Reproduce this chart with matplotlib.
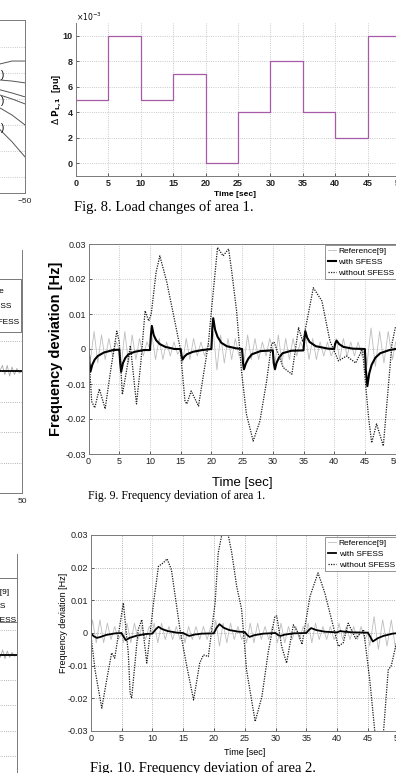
import matplotlib.pyplot as plt
from matplotlib.patches import Rectangle

W, H = 396, 773
SANS = ['Liberation Sans Narrow', 'Liberation Sans', 'DejaVu Sans']
SERIF = ['Liberation Serif', 'DejaVu Serif']
plt.rcParams['font.family'] = SANS

# ---- Fig. 8: load change of area 1 (x10^-3 pu)
load_t = [0, 5, 10, 15, 20, 25, 30, 35, 40, 45, 50]
load_v = [5, 10, 5, 7, 0, 4, 8, 4, 2, 10, 10]

# ---- Reference[9] curves (oscillation extrema)
ref_t = [0, 0.3, 0.9, 1.5, 2.1, 2.7, 3.3, 3.9, 4.5,
         5.0, 5.3, 5.9, 6.5, 7.1, 7.7, 8.3, 8.9, 9.5,
         10.0, 10.3, 10.9, 11.5, 12.1, 12.7, 13.3, 13.9, 14.5,
         15.0, 15.3, 15.9, 16.5, 17.1, 17.7, 18.3, 18.9, 19.5,
         20.0, 20.3, 20.9, 21.5, 22.1, 22.7, 23.3, 23.9, 24.5,
         25.0, 25.3, 25.9, 26.5, 27.1, 27.7, 28.3, 28.9, 29.5,
         30.0, 30.3, 30.9, 31.5, 32.1, 32.7, 33.3, 33.9, 34.5,
         35.0, 35.3, 35.9, 36.5, 37.1, 37.7, 38.3, 38.9, 39.5,
         40.0, 40.3, 40.9, 41.5, 42.1, 42.7, 43.3, 43.9, 44.5,
         45.0, 45.3, 46.0, 46.7, 47.4, 48.1, 48.8, 49.5, 50.0]
ref1_v = [0.0, -0.003, 0.005, -0.004, 0.004, -0.003, 0.003, -0.002, 0.002,
          0.0, -0.005, 0.005, -0.004, 0.004, -0.003, 0.003, -0.002, 0.002,
          0.0, 0.004, -0.003, 0.003, -0.003, 0.002, -0.002, 0.002, -0.0015,
          0.0, -0.004, 0.003, -0.003, 0.003, -0.002, 0.002, -0.002, 0.0015,
          0.0, 0.005, -0.006, 0.004, -0.004, 0.003, -0.003, 0.003, -0.002,
          0.0, -0.004, 0.004, -0.003, 0.003, -0.003, 0.002, -0.002, 0.003,
          0.0, -0.005, 0.004, -0.004, 0.003, -0.003, 0.003, -0.002, 0.002,
          0.0, 0.004, -0.003, 0.003, -0.003, 0.002, -0.002, 0.002, -0.002,
          0.0, 0.003, -0.003, 0.003, -0.002, 0.002, -0.002, 0.002, -0.002,
          0.0, -0.005, 0.006, -0.005, 0.005, -0.004, 0.005, -0.003, 0.002]
ref2_v = [0.0, 0.004, -0.003, 0.004, -0.003, 0.003, -0.002, 0.002, -0.002,
          0.0, -0.003, 0.003, -0.003, 0.003, -0.002, 0.002, -0.002, 0.002,
          0.0, 0.003, -0.003, 0.003, -0.002, 0.002, -0.002, 0.002, -0.002,
          0.0, -0.003, 0.002, -0.002, 0.002, -0.002, 0.002, -0.002, 0.002,
          0.0, 0.004, -0.004, 0.003, -0.003, 0.003, -0.002, 0.002, -0.002,
          0.0, -0.003, 0.003, -0.003, 0.003, -0.002, 0.002, -0.002, 0.002,
          0.0, -0.003, 0.003, -0.003, 0.002, -0.002, 0.002, -0.002, 0.002,
          0.0, 0.003, -0.003, 0.003, -0.002, 0.002, -0.002, 0.002, -0.002,
          0.0, 0.003, -0.002, 0.002, -0.002, 0.002, -0.002, 0.002, -0.002,
          0.0, -0.004, 0.005, -0.005, 0.004, -0.004, 0.004, -0.005, 0.001]

# ---- with SFESS, area 1
sf1_t = [0, 0.15, 0.3, 0.6, 1.0, 1.5, 2.5, 4.0,
         5.0, 5.15, 5.3, 5.6, 6.0, 6.5, 7.5, 9.0,
         10.0, 10.15, 10.3, 10.6, 11.0, 11.6, 12.5, 14.0,
         15.0, 15.15, 15.3, 15.6, 16.0, 17.0, 18.5,
         20.0, 20.15, 20.3, 20.6, 21.0, 21.6, 22.5, 24.0,
         25.0, 25.15, 25.3, 25.6, 26.0, 26.6, 28.0,
         30.0, 30.15, 30.35, 30.6, 31.0, 31.6, 33.0,
         35.0, 35.15, 35.3, 35.6, 36.0, 37.0, 39.0,
         40.0, 40.15, 40.4, 40.8, 41.5, 43.0,
         45.0, 45.15, 45.4, 45.7, 46.1, 46.7, 47.5, 49.0, 50.0]
sf1_v = [0.0, -0.004, -0.0065, -0.0045, -0.003, -0.002, -0.001, -0.0003,
         -0.0002, -0.004, -0.0065, -0.004, -0.0025, -0.0015, -0.0008, -0.0003,
         -0.0003, 0.004, 0.0066, 0.004, 0.0025, 0.0014, 0.0006, 0.0,
         0.0, -0.002, -0.003, -0.0022, -0.0015, -0.0008, -0.0003,
         0.0, 0.006, 0.0088, 0.0055, 0.0035, 0.0018, 0.0008, 0.0002,
         0.0, -0.004, -0.0058, -0.0042, -0.0028, -0.0015, -0.0006,
         -0.0004, -0.004, -0.0058, -0.004, -0.0025, -0.0012, -0.0005,
         -0.0004, 0.003, 0.0051, 0.0032, 0.002, 0.0008, 0.0001,
         0.0, 0.0015, 0.0024, 0.0014, 0.0006, 0.0001,
         0.0, -0.006, -0.0106, -0.007, -0.0045, -0.0025, -0.0012, -0.0003, 0.0]

# ---- without SFESS, area 1
no1_t = [0, 0.5, 1.0, 1.75, 2.7, 3.6, 4.6, 5.0, 5.5, 6.2, 6.8, 7.8, 8.5, 9.2,
         9.8, 10.2, 11.0, 11.6, 12.7, 13.8, 14.9, 15.7, 16.0, 16.7, 17.9, 19.5,
         20.0, 21.0, 21.9, 22.8, 23.3, 24.1, 24.9, 25.7, 26.8, 27.9, 29.0, 29.8,
         30.2, 31.7, 33.1, 34.2, 34.9, 36.6, 38.0, 39.3, 40.7, 42.0, 43.5, 44.6,
         45.6, 46.1, 46.9, 48.0, 49.4, 50.0]
no1_v = [0.0, -0.015, -0.0168, -0.0114, -0.0171, -0.006, 0.0051, 0.002, -0.013,
         -0.006, 0.001, -0.0157, -0.004, 0.0109, 0.008, 0.01, 0.022, 0.0266,
         0.0194, 0.01, 0.0004, -0.0149, -0.0157, -0.012, -0.0163, 0.0014,
         0.0109, 0.029, 0.0266, 0.0286, 0.0223, 0.0109, -0.0063, -0.0186,
         -0.0263, -0.0206, -0.0091, 0.0014, 0.002, -0.0053, -0.0072, 0.0061,
         0.002, 0.0175, 0.0137, 0.0023, -0.0034, -0.002, -0.004, 0.0,
         -0.0196, -0.0268, -0.0214, -0.0277, 0.0014, 0.0065]

# ---- with SFESS, area 2
sf2_t = [0, 0.5, 1.0, 1.6, 2.5, 4.0,
         5.0, 5.3, 5.7, 6.3, 7.5, 9.0,
         10.0, 10.5, 11.0, 11.6, 12.5, 14.0,
         15.0, 15.5, 16.0, 16.8, 18.0,
         20.0, 20.4, 20.9, 21.6, 22.5, 24.0,
         25.0, 25.4, 25.8, 26.5, 28.0,
         30.0, 30.4, 30.8, 31.5, 33.0,
         35.0, 35.4, 35.8, 36.6, 38.0,
         40.0, 40.5, 41.2, 42.5,
         45.0, 45.4, 45.8, 46.6, 47.5, 49.0, 50.0]
sf2_v = [0.0, -0.001, -0.0015, -0.0012, -0.0006, -0.0001,
         0.0, -0.001, -0.0022, -0.0015, -0.0008, -0.0003,
         -0.0002, 0.001, 0.0019, 0.0012, 0.0006, 0.0001,
         0.0, -0.0005, -0.0009, -0.0005, -0.0002,
         -0.0001, 0.0015, 0.0027, 0.0016, 0.0009, 0.0004,
         0.0003, -0.0006, -0.0012, -0.0007, -0.0002,
         0.0, -0.0006, -0.0009, -0.0005, -0.0001,
         0.0, 0.0009, 0.0015, 0.0009, 0.0004,
         0.0002, 0.0006, 0.0004, 0.0002,
         0.0001, -0.0012, -0.0026, -0.0016, -0.0009, -0.0002, 0.0]

# ---- without SFESS, area 2
no2_t = [0, 0.7, 1.8, 2.6, 3.4, 3.9, 5.3, 6.1, 6.4, 6.65, 7.7, 8.3, 9.1, 10.2,
         11.0, 11.8, 12.4, 13.1, 14.5, 15.6, 16.7, 17.7, 18.3, 19.1, 20.2,
         20.7, 21.8, 22.9, 23.7, 24.5, 25.3, 26.7, 27.8, 28.8, 29.9, 30.2,
         31.0, 31.8, 32.9, 33.7, 34.3, 35.6, 36.9, 38.0, 39.1, 40.2, 41.0,
         41.8, 43.0, 44.3, 45.3, 46.1, 46.7, 47.5, 48.3, 48.8, 49.5, 50.0]
no2_v = [0.0, -0.0113, -0.023, -0.0143, -0.0061, -0.0077, 0.0092, -0.0061,
         -0.0184, -0.02, 0.001, 0.0041, -0.0092, 0.0092, 0.0204, 0.0215,
         0.0227, 0.0194, 0.001, -0.0102, -0.0205, -0.0092, -0.0067, -0.0072,
         0.0092, 0.0245, 0.035, 0.0245, 0.0143, 0.0072, -0.0113, -0.0271,
         -0.0194, -0.0061, 0.0051, 0.0052, -0.0041, -0.0092, 0.0025, 0.0,
         -0.0035, 0.0112, 0.0184, 0.0123, 0.0041, -0.0041, -0.003, 0.003,
         -0.0017, 0.001, -0.0143, -0.0297, -0.034, -0.031, -0.0113, -0.01,
         -0.0041, 0.0]

# ---- fragments of the neighbouring column (left edge of the page)
frag_x = [-57.1, -53.7, -50.0]
frag_lines = [[5.35, 5.46, 5.46], [4.73, 4.69, 4.62], [4.35, 4.23, 4.08],
              [4.15, 4.0, 3.81], [3.65, 3.38, 3.0], [2.81, 2.35, 1.77]]
frag_ref_t = [43.5, 44.3, 45.0, 45.7, 46.4, 47.1, 47.8, 48.5, 49.2, 50.0]
frag_ref_v = [0.0, 0.002, -0.001, 0.002, -0.0015, 0.0015, -0.001, 0.001, -0.0005, 0.0]
frag_sf_t = [43.5, 50.0]
frag_sf_v = [0.0, 0.0]

legend_labels = ['Reference[9]', 'with SFESS', 'without SFESS']


def px_axes(fig, left, top, right, bottom):
    return fig.add_axes([left / W, 1 - bottom / H, (right - left) / W, (bottom - top) / H])


def matlab_style(ax, grid_color='#b8b8b8'):
    ax.grid(True, linestyle=':', linewidth=0.6, color=grid_color)
    for s in ax.spines.values():
        s.set_color('#7a7a7a')
        s.set_linewidth(0.7)
    ax.tick_params(direction='in', length=2.5, width=0.5, colors='#222222')


fig = plt.figure(figsize=(W / 100, H / 100), dpi=100)

# ---------------- Fig. 8 ----------------
ax8 = px_axes(fig, 76, 23, 400, 176)
ax8.step(load_t, load_v, where='post', color='#a65aa8', lw=0.9)
ax8.set_xlim(0, 50)
ax8.set_ylim(-1, 11)
ax8.set_xticks(range(0, 51, 5))
ax8.set_yticks(range(0, 11, 2))
matlab_style(ax8)
ax8.spines['top'].set_visible(False)
ax8.tick_params(labelsize=6.5, pad=2.5)
for lab in ax8.get_xticklabels() + ax8.get_yticklabels():
    lab.set_family(['Liberation Sans'])
    lab.set_fontweight('bold')
ax8.set_xlabel('Time [sec]', fontsize=6, fontweight='bold', family=['Liberation Sans'])
ax8.xaxis.set_label_coords(0.49, -0.095)
ax8.set_ylabel(r'$\Delta$ $\mathbf{P_{L,1}}$  [pu]', fontsize=6.5, fontweight='bold',
               family=['Liberation Sans'])
ax8.yaxis.set_label_coords(-0.036, 0.5)
ax8.text(0.0, 1.0, r'$\times10^{-3}$', transform=ax8.transAxes, fontsize=5.5,
         ha='left', va='bottom', family=['Liberation Sans'])
fig.text(74 / W, 1 - 207 / H, 'Fig. 8. Load changes of area 1.', family=SERIF,
         fontsize=10.5, ha='left', va='center')

# ---------------- Fig. 9 ----------------
ax9 = px_axes(fig, 88.6, 244, 395.6, 454)
l_ref, = ax9.plot(ref_t, ref1_v, color='#bdbdbd', lw=0.6)
l_sf, = ax9.plot(sf1_t, sf1_v, color='black', lw=1.5)
l_no, = ax9.plot(no1_t, no1_v, color='#1a1a1a', lw=0.9, linestyle=(0, (1, 1)))
ax9.set_xlim(0, 50)
ax9.set_ylim(-0.03, 0.03)
ax9.set_xticks(range(0, 51, 5))
ax9.set_yticks([-0.03, -0.02, -0.01, 0, 0.01, 0.02, 0.03])
ax9.set_yticklabels(['-0.03', '-0.02', '-0.01', '0', '0.01', '0.02', '0.03'])
matlab_style(ax9)
ax9.tick_params(labelsize=6.5, pad=2)
ax9.set_xlabel('Time [sec]', fontsize=9.5)
ax9.xaxis.set_label_coords(0.5, -0.11)
ax9.set_ylabel('Frequency deviation [Hz]', fontsize=10.5, fontweight='bold',
               family=['Liberation Sans'])
ax9.yaxis.set_label_coords(-0.085, 0.5)
leg9 = ax9.legend([l_ref, l_sf, l_no], legend_labels, loc='upper right',
                  bbox_to_anchor=(1.005, 0.995), fontsize=6, frameon=True,
                  fancybox=False, edgecolor='#777777', handlelength=1.0,
                  handletextpad=0.3, labelspacing=0.35, borderpad=0.3,
                  borderaxespad=0)
leg9.get_frame().set_linewidth(0.7)
fig.text(88 / W, 1 - 496 / H, 'Fig. 9. Frequency deviation of area 1.', family=SERIF,
         fontsize=8.5, ha='left', va='center')

# ---------------- Fig. 10 ----------------
ax10 = px_axes(fig, 90.7, 535, 398.7, 731)
r2, = ax10.plot(ref_t, ref2_v, color='#bdbdbd', lw=0.6)
s2, = ax10.plot(sf2_t, sf2_v, color='black', lw=1.3)
n2, = ax10.plot(no2_t, no2_v, color='#1a1a1a', lw=0.9, linestyle=(0, (1, 1)))
ax10.set_xlim(0, 50)
ax10.set_ylim(-0.03, 0.03)
ax10.set_xticks(range(0, 51, 5))
ax10.set_yticks([-0.03, -0.02, -0.01, 0, 0.01, 0.02, 0.03])
ax10.set_yticklabels(['-0.03', '-0.02', '-0.01', '0', '0.01', '0.02', '0.03'])
matlab_style(ax10, grid_color='#9a9a9a')
ax10.tick_params(labelsize=6.5, pad=2)
ax10.set_xlabel('Time [sec]', fontsize=6.5)
ax10.xaxis.set_label_coords(0.5, -0.085)
ax10.set_ylabel('Frequency deviation [Hz]', fontsize=6.5)
ax10.yaxis.set_label_coords(-0.075, 0.55)
leg10 = ax10.legend([r2, s2, n2], legend_labels, loc='upper right',
                    bbox_to_anchor=(0.995, 0.99), fontsize=6, frameon=True,
                    fancybox=False, edgecolor='#777777', handlelength=1.0,
                    handletextpad=0.3, labelspacing=0.35, borderpad=0.3,
                    borderaxespad=0)
leg10.get_frame().set_linewidth(0.7)
fig.text(90 / W, 1 - 768 / H, 'Fig. 10. Frequency deviation of area 2.', family=SERIF,
         fontsize=10.5, ha='left', va='center')

# ---------------- left-edge fragments ----------------
axa = px_axes(fig, -150, 20, 25, 193)
for ys in frag_lines:
    axa.plot(frag_x, ys, color='#555555', lw=0.7)
axa.set_xlim(-100, -50)
axa.set_ylim(0.38, 7.04)
axa.set_yticks([1, 2, 3, 4, 5, 6])
axa.set_xticks([-50])
matlab_style(axa)
axa.tick_params(labelsize=6, left=False, labelleft=False)
for ypx in [75, 101, 128]:
    fig.text(4 / W, 1 - ypx / H, ')', fontsize=7, ha='right', va='center')

axb = px_axes(fig, -150, 250, 22, 493)
axb.plot(frag_ref_t, frag_ref_v, color='#a8a8a8', lw=0.6)
axb.plot(frag_sf_t, frag_sf_v, color='black', lw=1.3)
axb.set_xlim(0, 50)
axb.set_ylim(-0.04, 0.04)
axb.set_yticks([-0.03, -0.02, -0.01, 0, 0.01, 0.02, 0.03])
axb.set_xticks([50])
matlab_style(axb, grid_color='#9a9a9a')
axb.spines['top'].set_visible(False)
axb.tick_params(labelsize=6, left=False, labelleft=False)
fig.add_artist(Rectangle((-80 / W, 1 - 332 / H), 101 / W, 53 / H,
                         transform=fig.transFigure, facecolor='white',
                         edgecolor='#777777', lw=0.7))
for txt, xr, ypx in [('Reference', 4, 292), ('with SFESS', 11, 307), ('without SFESS', 19, 322)]:
    fig.text(xr / W, 1 - ypx / H, txt, fontsize=6, ha='right', va='center')

axc = px_axes(fig, -150, 554, 17, 781)
axc.plot(frag_ref_t, frag_ref_v, color='#a8a8a8', lw=0.6)
axc.plot(frag_sf_t, frag_sf_v, color='black', lw=1.3)
axc.set_xlim(0, 50)
axc.set_ylim(-0.05, 0.04)
axc.set_yticks([-0.04, -0.03, -0.02, -0.01, 0, 0.01, 0.02, 0.03])
axc.set_xticks([])
matlab_style(axc, grid_color='#9a9a9a')
axc.spines['top'].set_visible(False)
axc.tick_params(left=False, labelleft=False)
fig.add_artist(Rectangle((-80 / W, 1 - 622 / H), 97 / W, 44 / H,
                         transform=fig.transFigure, facecolor='white',
                         edgecolor='#777777', lw=0.7))
for txt, xr, ypx in [('Reference[9]', 9, 592), ('with SFESS', 5, 607), ('without SFESS', 16, 620)]:
    fig.text(xr / W, 1 - ypx / H, txt, fontsize=6, ha='right', va='center')

fig.savefig('out.png', dpi=100)
